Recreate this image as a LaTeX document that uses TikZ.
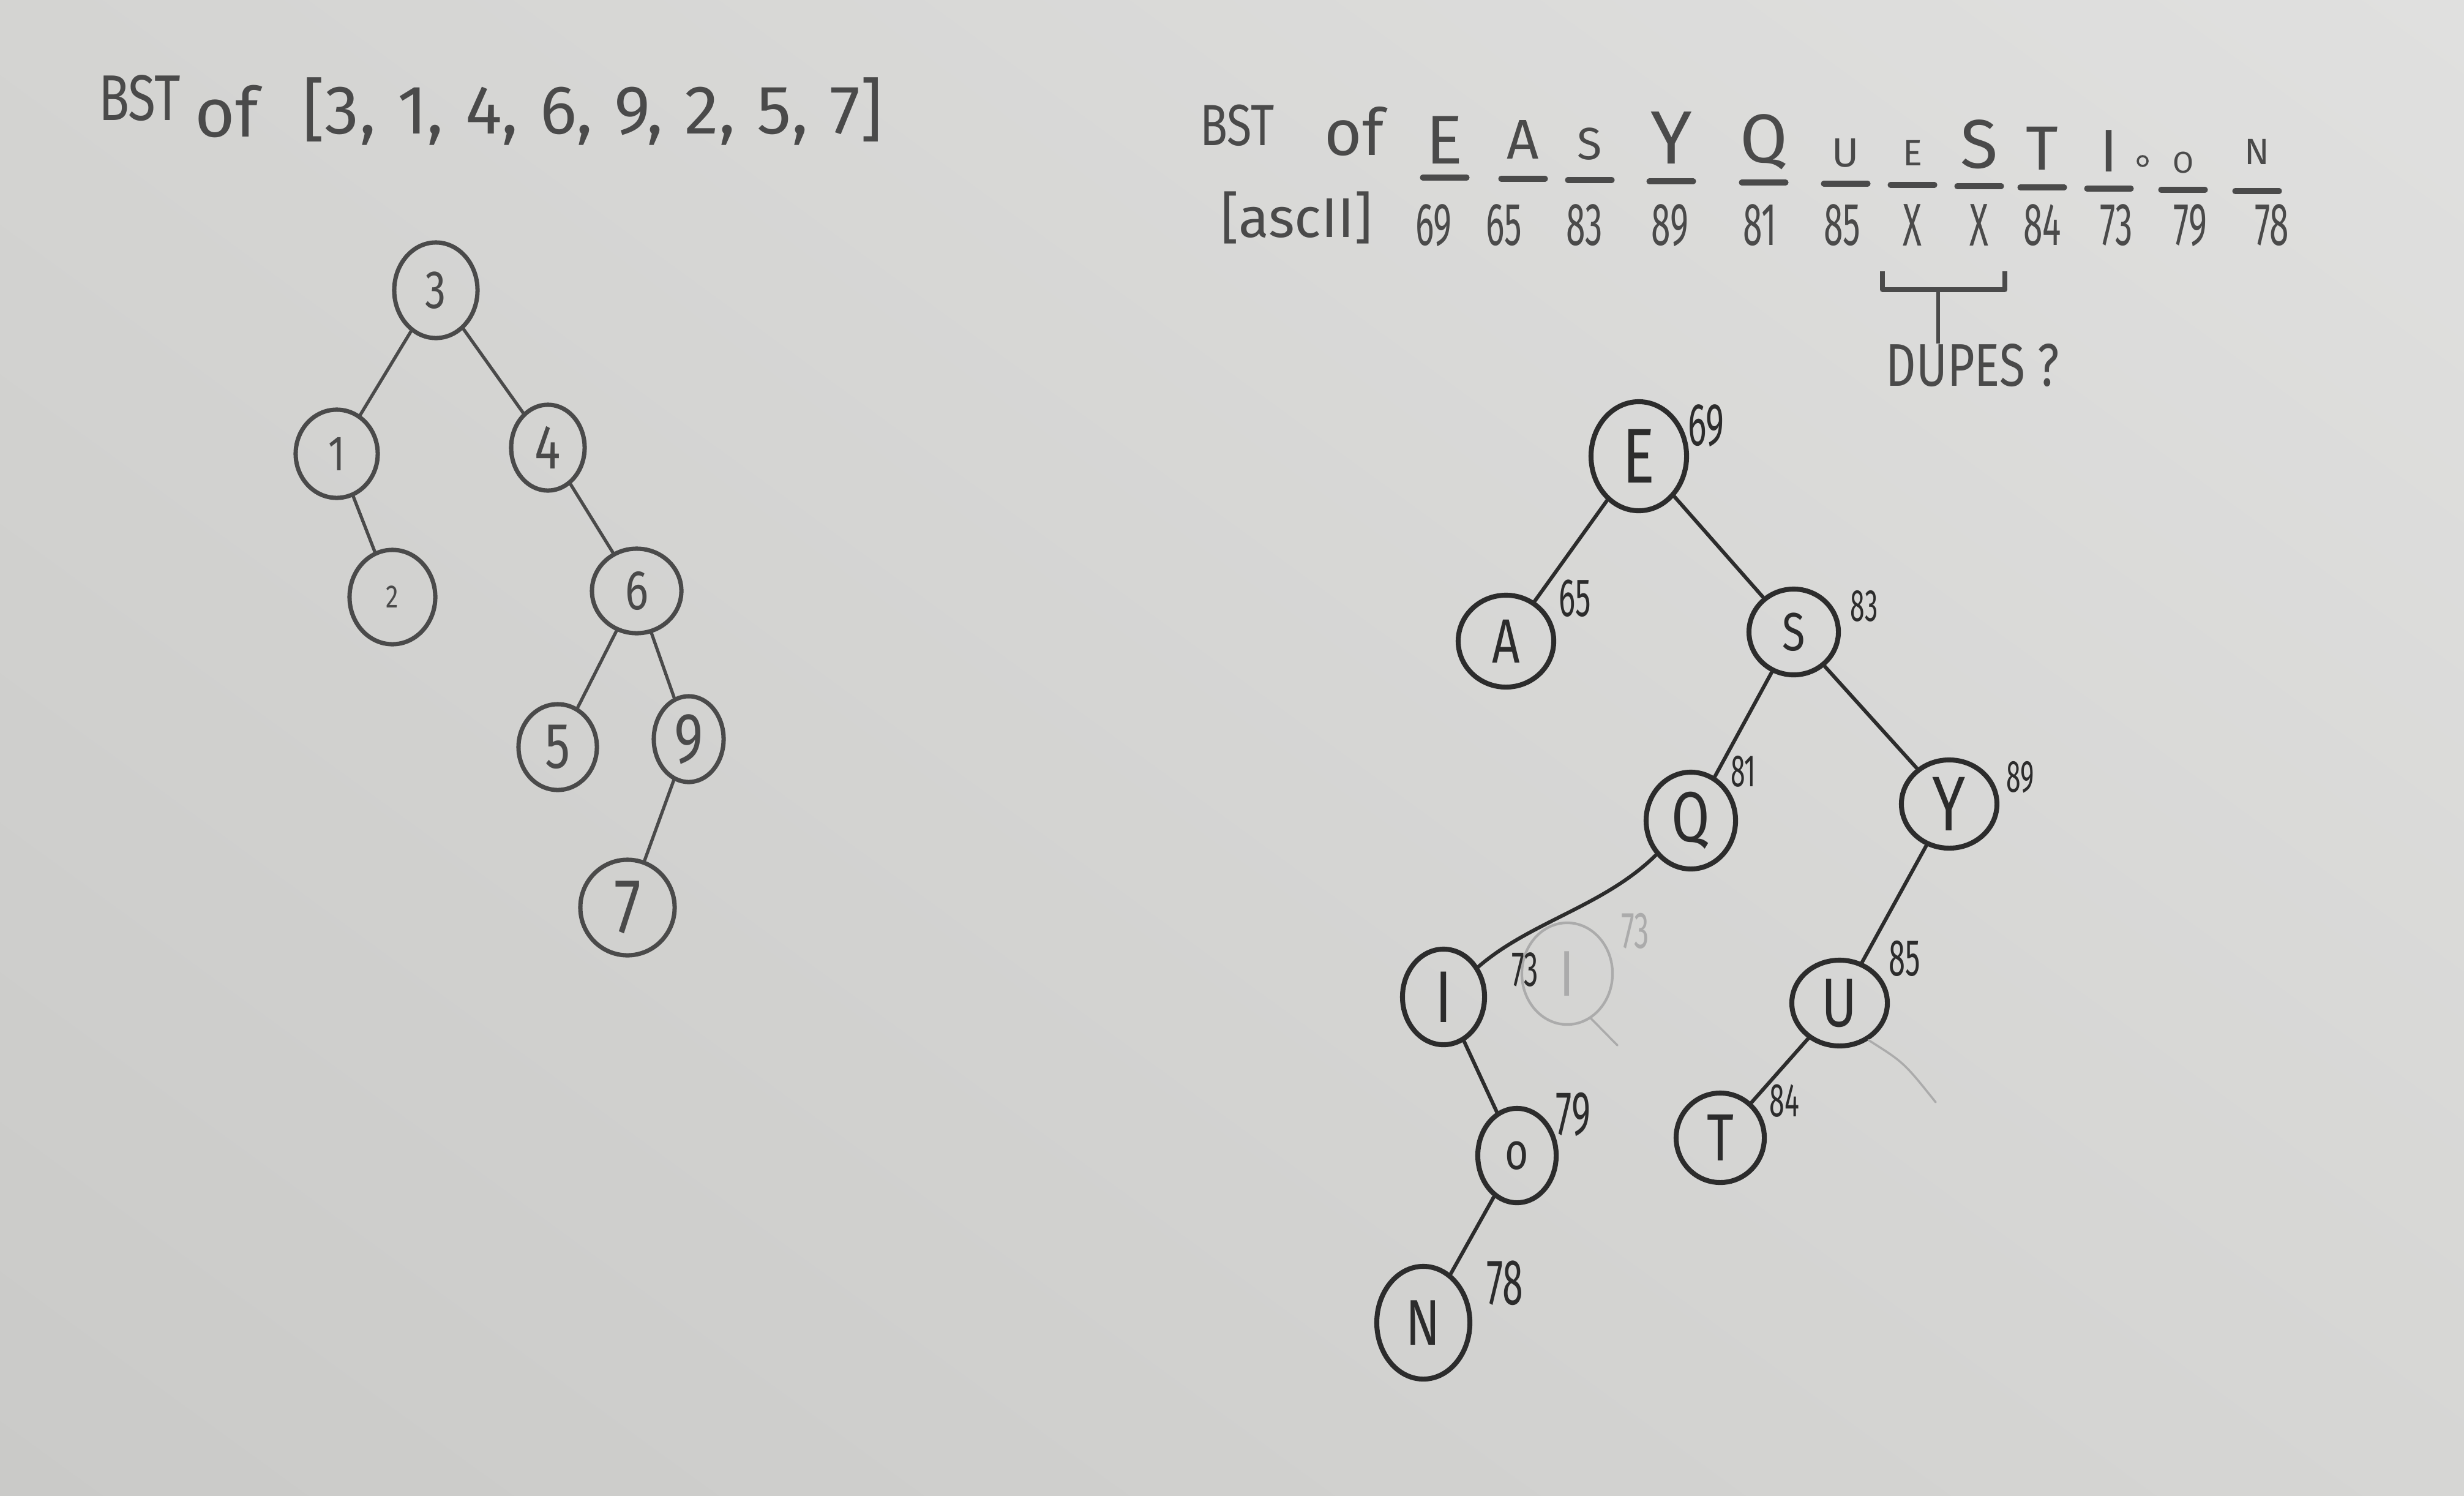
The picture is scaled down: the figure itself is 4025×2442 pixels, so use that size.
\documentclass[tikz,border=0pt]{standalone}
\usepackage{fontspec}
\setmainfont{Fira Sans}
\newfontfamily\handA{Fira Sans}
\newfontfamily\handB{Fira Sans}[FakeStretch=0.78]
\newfontfamily\handC{Fira Sans}[FakeStretch=0.58]
\newcommand\setfs[1]{\fontsize{#1}{#1}\selectfont}
\usetikzlibrary{shapes.geometric,shadings}
\definecolor{paperUL}{HTML}{D4D4D2}
\definecolor{paperUR}{HTML}{E0E0DF}
\definecolor{paperLL}{HTML}{CACAC8}
\definecolor{paperLR}{HTML}{D6D6D4}
\definecolor{ink}{HTML}{2C2C2C}
\definecolor{inkL}{HTML}{4A4A4A}
\definecolor{faint}{HTML}{ABABAB}
\begin{document}
\begin{tikzpicture}[x=0.01cm,y=-0.01cm,
  rnode/.style={ellipse, draw=ink, line width=2.3pt, inner sep=0pt, text=ink, font=\handB},
  lnode/.style={ellipse, draw=inkL, line width=2pt, inner sep=0pt, text=inkL, font=\handB},
  fnode/.style={ellipse, draw=faint, line width=1.2pt, inner sep=0pt, text=faint, font=\handB},
  redge/.style={draw=ink, line width=1.7pt, line cap=round},
  ledge/.style={draw=inkL, line width=1.5pt, line cap=round},
  fedge/.style={draw=faint, line width=1pt, line cap=round},
  numlbl/.style={text=ink, inner sep=0pt, font=\handC},
  hdr/.style={text=inkL, inner sep=0pt, font=\handA},
  ulbar/.style={draw=inkL, line width=2.6pt, line cap=round},
]
% paper
\shade[upper left=paperUL, upper right=paperUR, lower left=paperLL, lower right=paperLR]
  (0,0) rectangle (4025,2442);
\useasboundingbox (0,0) rectangle (4025,2442);

% ---------- left title ----------
\node[hdr, font=\handB\setfs{30}] (lbst) at (228,160) {BST};
\node[hdr, font=\handA\setfs{32}] (lof) at (370,182) {of};
\node[hdr, font=\handA\setfs{32}] (llist) at (968,182)
  {[3,\hspace{10pt}1,\hspace{10pt}4,\hspace{10pt}6,\hspace{10pt}9,\hspace{10pt}2,\hspace{10pt}5,\hspace{10pt}7]};

% ---------- left tree ----------
\node[lnode, minimum width=1.36cm, minimum height=1.56cm, font=\handB\setfs{25}] (n3) at (712,474) {3};
\node[lnode, minimum width=1.34cm, minimum height=1.44cm, font=\handB\setfs{23}] (n1) at (550,741) {1};
\node[lnode, minimum width=1.20cm, minimum height=1.40cm, font=\handB\setfs{29}] (n4) at (895,731) {4};
\node[lnode, minimum width=1.40cm, minimum height=1.54cm, font=\handB\setfs{15}] (n2) at (641,975) {2};
\node[lnode, minimum width=1.46cm, minimum height=1.38cm, font=\handB\setfs{26}] (n6) at (1040,965) {6};
\node[lnode, minimum width=1.28cm, minimum height=1.40cm, font=\handB\setfs{30}] (n5) at (911,1220) {5};
\node[lnode, minimum width=1.14cm, minimum height=1.40cm, font=\handB\setfs{33}] (n9) at (1125,1207) {9};
\node[lnode, minimum width=1.54cm, minimum height=1.56cm, font=\handB\setfs{36}] (n7) at (1025,1482) {7};

\draw[ledge] (n3) -- (n1);
\draw[ledge] (n3) -- (n4);
\draw[ledge] (n1) -- (n2);
\draw[ledge] (n4) -- (n6);
\draw[ledge] (n6) -- (n5);
\draw[ledge] (n6) -- (n9);
\draw[ledge] (n9) -- (n7);

% ---------- right header ----------
\node[hdr, font=\handB\setfs{27}] (rbst) at (2021,205) {BST};
\node[hdr, font=\handA\setfs{30}] (rof) at (2212,215) {of};
\node[hdr, font=\handA\setfs{26}] (ascii) at (2118,355) {[ascII]};

\foreach \ch/\xx/\yy/\fsz/\nm/\nx [count=\i] in {
  E/2360/229/32/69/2342, A/2488/228/26/65/2457, S/2597/235/21/83/2588,
  Y/2730/225/35/89/2728, Q/2881/232/32/81/2875, U/3015/250/19/85/3009,
  E/3124/250/17/X/3124, S/3233/236/32/X/3233, T/3336/242/29/84/3336,
  I/3445/247/28/73/3457, O/3566/266/14/79/3578, N/3687/248/17/78/3711}
{
  \node[hdr, font=\handA\setfs{\fsz}] (hl\i) at (\xx,\yy) {\ch};
  \draw[ulbar] ({\xx-36},{288+2*\i}) -- ({\xx+36},{288+2*\i});
  \node[hdr, font=\handC\setfs{28}] (hn\i) at (\nx,368) {\nm};
}
\draw[inkL, line width=1pt] (3500,263) circle (8);

% dupes bracket
\coordinate (bl) at (3075,443);
\coordinate (br) at (3275,443);
\coordinate (bm) at (3166,473);
\node[hdr, font=\handB\setfs{28}] (dupes) at (3222,597) {DUPES ?};
\draw[inkL, line width=2.2pt, line join=round] (bl) -- (bl |- bm) -- (br |- bm) -- (br);
\draw[inkL, line width=1.8pt] (bm) -- (dupes.north -| bm);

% ---------- right tree ----------
\node[rnode, minimum width=1.56cm, minimum height=1.78cm, font=\handB\setfs{36}] (E) at (2677,745) {E};
\node[rnode, minimum width=1.56cm, minimum height=1.50cm, font=\handB\setfs{29}] (A) at (2460,1047) {A};
\node[rnode, minimum width=1.46cm, minimum height=1.40cm, font=\handB\setfs{25}] (S) at (2930,1032) {S};
\node[rnode, minimum width=1.46cm, minimum height=1.58cm, font=\handB\setfs{33}] (Q) at (2762,1340) {Q};
\node[rnode, minimum width=1.56cm, minimum height=1.44cm, font=\handB\setfs{36}] (Y) at (3184,1313) {Y};
\node[rnode, minimum width=1.34cm, minimum height=1.56cm, font=\handB\setfs{34}] (I) at (2358,1628) {I};
\node[rnode, minimum width=1.56cm, minimum height=1.40cm, font=\handB\setfs{32}] (U) at (3005,1638) {U};
\node[rnode, minimum width=1.44cm, minimum height=1.46cm, font=\handB\setfs{31}] (T) at (2810,1858) {T};
\node[rnode, minimum width=1.28cm, minimum height=1.54cm, font=\handB\setfs{24}] (O) at (2478,1887) {o};
\node[rnode, minimum width=1.52cm, minimum height=1.84cm, font=\handB\setfs{30}] (N) at (2325,2160) {N};

% erased node (faint)
\node[fnode, minimum width=1.48cm, minimum height=1.66cm, font=\handB\setfs{30}] (eI) at (2560,1590) {I};
\node[numlbl, text=faint, font=\handC\setfs{24}] (e73) at (2671,1520) {73};
\coordinate (eIf) at (2642,1707);
\coordinate (Uf) at (3162,1800);
\draw[fedge] (eI.-62) -- (eIf);
\draw[fedge] (U.-52) .. controls (3110,1735) .. (Uf);

% labels
\node[numlbl, font=\handC\setfs{28}] (l69) at (2787,695) {69};
\node[numlbl, font=\handC\setfs{25}] (l65) at (2573,977) {65};
\node[numlbl, font=\handC\setfs{21}] (l83) at (3045,990) {83};
\node[numlbl, font=\handC\setfs{21}] (l81) at (2848,1260) {81};
\node[numlbl, font=\handC\setfs{21}] (l89) at (3300,1269) {89};
\node[numlbl, font=\handC\setfs{23}] (l73) at (2491,1583) {73};
\node[numlbl, font=\handC\setfs{24}] (l85) at (3111,1565) {85};
\node[numlbl, font=\handC\setfs{22}] (l84) at (2915,1798) {84};
\node[numlbl, font=\handC\setfs{29}] (l79) at (2570,1820) {79};
\node[numlbl, font=\handC\setfs{30}] (l78) at (2458,2095) {78};

% edges
\draw[redge] (E) -- (A);
\draw[redge] (E) -- (S);
\draw[redge] (S) -- (Q);
\draw[redge] (S) -- (Y);
\draw[redge] (Q) .. controls (2620,1480) and (2500,1505) .. (I);
\draw[redge] (Y) -- (U);
\draw[redge] (U) -- (T);
\draw[redge] (I) -- (O);
\draw[redge] (O) -- (N);
\end{tikzpicture}
\end{document}
